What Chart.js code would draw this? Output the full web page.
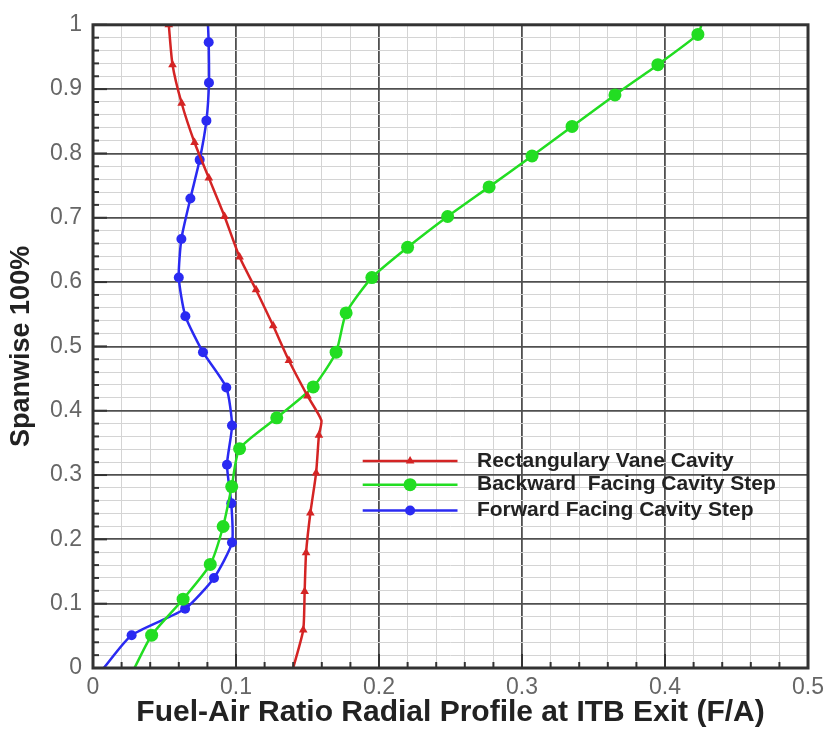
<!DOCTYPE html>
<html>
<head>
<meta charset="utf-8">
<title>Fuel-Air Ratio Radial Profile</title>
<script src="https://cdn.jsdelivr.net/npm/chart.js@4.4.1/dist/chart.umd.min.js"></script>
<style>
  body { margin: 0; background: #fff; }
  canvas { display: block; }
</style>
</head>
<body>
<canvas id="profileChart" width="830" height="729"></canvas>
<script>
// Fuel-air ratio (x) against spanwise position (y) for each cavity design
const rectX = [0.140, 0.147, 0.148, 0.149, 0.152, 0.156, 0.158, 0.1597, 0.150, 0.137, 0.126, 0.114, 0.1025, 0.092, 0.081, 0.071, 0.062, 0.0556, 0.053];
const rectY = [0, 0.059, 0.119, 0.179, 0.241, 0.303, 0.362, 0.385, 0.423, 0.478, 0.532, 0.588, 0.639, 0.702, 0.762, 0.817, 0.878, 0.938, 1.0];
const rectMarks = [0, 1, 1, 1, 1, 1, 1, 0, 1, 1, 1, 1, 1, 1, 1, 1, 1, 1, 1];

const backX = [0.029, 0.041, 0.063, 0.082, 0.091, 0.097, 0.1025, 0.1285, 0.154, 0.170, 0.177, 0.195, 0.220, 0.248, 0.277, 0.307, 0.335, 0.365, 0.395, 0.423, 0.4255];
const backY = [0, 0.051, 0.107, 0.161, 0.220, 0.282, 0.341, 0.389, 0.437, 0.491, 0.552, 0.607, 0.654, 0.702, 0.748, 0.796, 0.842, 0.891, 0.938, 0.985, 1.0];
const backMarks = [0, 1, 1, 1, 1, 1, 1, 1, 1, 1, 1, 1, 1, 1, 1, 1, 1, 1, 1, 1, 0];

const fwdX = [0.0075, 0.027, 0.0644, 0.0846, 0.0972, 0.0967, 0.0937, 0.0972, 0.0932, 0.0769, 0.0646, 0.060, 0.0618, 0.0681, 0.0746, 0.0793, 0.0811, 0.0809, 0.0804];
const fwdY = [0, 0.051, 0.092, 0.140, 0.195, 0.256, 0.316, 0.377, 0.436, 0.491, 0.547, 0.607, 0.667, 0.730, 0.790, 0.851, 0.910, 0.973, 1.0];
const fwdMarks = [0, 1, 1, 1, 1, 1, 1, 1, 1, 1, 1, 1, 1, 1, 1, 1, 1, 1, 0];

const seriesNames = ["Rectangulary Vane Cavity", "Backward  Facing Cavity Step", "Forward Facing Cavity Step"];

const toPoints = (xs, ys) => xs.map((x, i) => ({ x: x, y: ys[i] }));
const isMajor = (v) => Math.round(v * 50) % 5 === 0;

function makeSeries(label, xs, ys, marks, color, style, radius) {
    return {
        label: label,
        data: toPoints(xs, ys),
        showLine: true,
        borderColor: color,
        backgroundColor: color,
        borderWidth: 2.5,
        tension: 0.2,
        pointStyle: style,
        pointRadius: marks.map((m) => m * radius),
        pointBorderWidth: 0,
        legendRadius: radius,
    };
}

// legend drawn inside the plot area, to the right of the curves
const legendInside = {
    id: "legendInside",
    afterDatasetsDraw(chart) {
        const ctx = chart.ctx;
        const x = chart.scales.x;
        const y = chart.scales.y;
        const x0 = x.getPixelForValue(0.1886);
        const x1 = x.getPixelForValue(0.2549);
        const tx = x.getPixelForValue(0.2685);
        const rows = [0.322, 0.285, 0.245];
        ctx.save();
        chart.data.datasets.forEach((ds, i) => {
            const py = y.getPixelForValue(rows[i]);
            ctx.strokeStyle = ds.borderColor;
            ctx.lineWidth = 2.5;
            ctx.beginPath();
            ctx.moveTo(x0, py);
            ctx.lineTo(x1, py);
            ctx.stroke();
            ctx.fillStyle = ds.backgroundColor;
            Chart.helpers.drawPoint(ctx, { pointStyle: ds.pointStyle, radius: ds.legendRadius, borderWidth: 0 }, (x0 + x1) / 2, py);
            ctx.fillStyle = "#222";
            ctx.font = "bold 21px Arial, 'Liberation Sans', sans-serif";
            ctx.textBaseline = "middle";
            ctx.fillText(seriesNames[i], tx, py);
        });
        ctx.restore();
    },
};

// frame around the plot plus inward tick marks on the left and bottom axes
const frameTicks = {
    id: "frameTicks",
    afterDraw(chart) {
        const { ctx, chartArea: a } = chart;
        const x = chart.scales.x;
        const y = chart.scales.y;
        ctx.save();
        ctx.strokeStyle = "#333";
        ctx.lineWidth = 2;
        y.ticks.forEach((t) => {
            const py = y.getPixelForValue(t.value);
            const len = isMajor(t.value) ? 14 : 6;
            ctx.beginPath();
            ctx.moveTo(a.left, py);
            ctx.lineTo(a.left + len, py);
            ctx.stroke();
        });
        x.ticks.forEach((t) => {
            const px = x.getPixelForValue(t.value);
            const len = isMajor(t.value) ? 14 : 6;
            ctx.beginPath();
            ctx.moveTo(px, a.bottom);
            ctx.lineTo(px, a.bottom - len);
            ctx.stroke();
        });
        ctx.lineWidth = 3;
        ctx.strokeRect(a.left, a.top, a.right - a.left, a.bottom - a.top);
        ctx.restore();
    },
};

function gridStyle() {
    return {
        color: (c) => (c.tick && isMajor(c.tick.value) ? "#505050" : "#d4d4d4"),
        lineWidth: (c) => (c.tick && isMajor(c.tick.value) ? 1.8 : 1),
        drawTicks: false,
    };
}

const tickFont = { family: "Arial, 'Liberation Sans', sans-serif", size: 23 };
const tickLabel = (v) => (isMajor(v) ? String(Math.round(v * 10) / 10) : "");

const ctx = document.getElementById("profileChart").getContext("2d");
const profileChart = new Chart(ctx, {
    type: "scatter",
    data: {
        datasets: [
            makeSeries(seriesNames[0], rectX, rectY, rectMarks, "#d42424", "triangle", 5),
            makeSeries(seriesNames[1], backX, backY, backMarks, "#22dd22", "circle", 6.5),
            makeSeries(seriesNames[2], fwdX, fwdY, fwdMarks, "#2a2af2", "circle", 5),
        ],
    },
    options: {
        responsive: false,
        animation: false,
        layout: { padding: { top: 19, right: 20, left: 0, bottom: 0 } },
        plugins: {
            legend: { display: false },
            tooltip: { enabled: false },
        },
        scales: {
            x: {
                type: "linear",
                min: 0,
                max: 0.5,
                border: { display: false },
                grid: gridStyle(),
                ticks: {
                    stepSize: 0.02,
                    autoSkip: false,
                    maxRotation: 0,
                    padding: 6,
                    color: "#666",
                    font: tickFont,
                    callback: tickLabel,
                },
                title: {
                    display: true,
                    text: "Fuel-Air Ratio Radial Profile at ITB Exit (F/A)",
                    color: "#222",
                    font: { family: "Arial, 'Liberation Sans', sans-serif", size: 30, weight: "bold", lineHeight: 1 },
                    padding: { top: 0, bottom: 1 },
                },
                afterFit: (scale) => { scale.height = 61; },
            },
            y: {
                type: "linear",
                min: 0,
                max: 1,
                border: { display: false },
                grid: gridStyle(),
                ticks: {
                    stepSize: 0.02,
                    autoSkip: false,
                    padding: 11,
                    color: "#666",
                    font: tickFont,
                    callback: tickLabel,
                },
                title: {
                    display: true,
                    text: "Spanwise 100%",
                    color: "#222",
                    font: { family: "Arial, 'Liberation Sans', sans-serif", size: 27, weight: "bold", lineHeight: 1 },
                    padding: { top: 8, bottom: 0 },
                },
                afterFit: (scale) => { scale.width = 93; },
            },
        },
    },
    plugins: [legendInside, frameTicks],
});
</script>
</body>
</html>
